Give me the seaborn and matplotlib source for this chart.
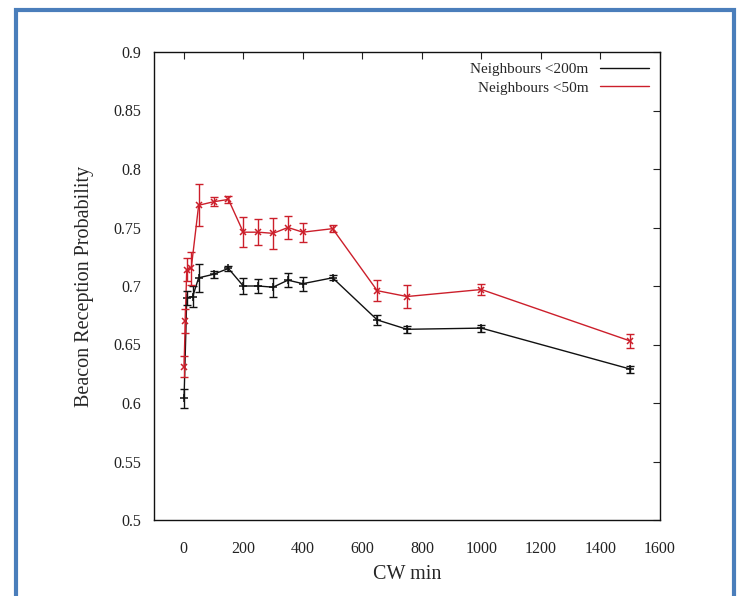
import numpy as np
import pandas as pd
import matplotlib
matplotlib.use('Agg')
from matplotlib import pyplot as plt
from matplotlib.patches import Rectangle
import seaborn as sns

sns.set_style('white')
plt.rcParams['font.family'] = ['Liberation Serif', 'DejaVu Serif']

# Neighbours < 200m (black)
cw_200 = [1, 10, 30, 50, 100, 150, 200, 250, 300, 350, 400, 500, 650, 750, 1000, 1500]
prob_200 = [0.604, 0.690, 0.691, 0.707, 0.710, 0.715, 0.700, 0.700, 0.699, 0.705, 0.702, 0.707,
            0.671, 0.663, 0.664, 0.629]
err_200 = [0.008, 0.006, 0.009, 0.012, 0.003, 0.002, 0.007, 0.006, 0.008, 0.006, 0.006, 0.002,
           0.004, 0.003, 0.003, 0.003]

# Neighbours < 50m (red)
cw_50 = [1, 5, 10, 25, 50, 100, 150, 200, 250, 300, 350, 400, 500, 650, 750, 1000, 1500]
prob_50 = [0.631, 0.670, 0.714, 0.715, 0.769, 0.772, 0.774, 0.746, 0.746, 0.745, 0.750, 0.746,
           0.749, 0.696, 0.691, 0.697, 0.653]
err_50 = [0.009, 0.010, 0.010, 0.014, 0.018, 0.004, 0.003, 0.013, 0.011, 0.013, 0.010, 0.008,
          0.003, 0.009, 0.010, 0.005, 0.006]

black = '#111111'
red = '#cc1f2b'

df200 = pd.DataFrame({'cw': cw_200, 'p': prob_200, 'e': err_200})
df50 = pd.DataFrame({'cw': cw_50, 'p': prob_50, 'e': err_50})

fig = plt.figure(figsize=(7.38, 5.96), dpi=100)
ax = fig.add_axes([154 / 738, 76 / 596, 506 / 738, 468 / 596])

sns.lineplot(data=df200, x='cw', y='p', ax=ax, color=black, lw=1.0, marker='+',
             markersize=6, markeredgewidth=1.1, markeredgecolor=black, label='Neighbours <200m')
sns.lineplot(data=df50, x='cw', y='p', ax=ax, color=red, lw=1.0, marker='x',
             markersize=5, markeredgewidth=1.1, markeredgecolor=red, label='Neighbours <50m')
ax.errorbar(df200['cw'], df200['p'], yerr=df200['e'], fmt='none', ecolor=black,
            elinewidth=1.0, capsize=3, capthick=1.0)
ax.errorbar(df50['cw'], df50['p'], yerr=df50['e'], fmt='none', ecolor=red,
            elinewidth=1.0, capsize=3, capthick=1.0)

ax.set_xlim(-100, 1600)
ax.set_ylim(0.5, 0.9)
ax.set_xticks(np.arange(0, 1601, 200))
ax.set_yticks(np.arange(0.5, 0.901, 0.05))
ax.set_yticklabels(['0.5', '0.55', '0.6', '0.65', '0.7', '0.75', '0.8', '0.85', '0.9'])
ax.tick_params(direction='in', length=5, width=0.8, top=True, right=True,
               labelsize=11.5, pad=9, colors='#222222')
ax.tick_params(axis='x', pad=15)
for s in ax.spines.values():
    s.set_linewidth(1.0)
    s.set_color('#111111')

ax.set_xlabel('CW min', fontsize=14.5, labelpad=6)
ax.set_ylabel('Beacon Reception Probability', fontsize=14.5, labelpad=14)

leg = ax.legend(loc='upper right', frameon=False, markerfirst=False, fontsize=11,
                handlelength=3.2, borderaxespad=0.3, labelspacing=0.3)
for h in leg.legend_handles:
    h.set_marker('')

# blue frame of the screenshot
fig.patches.append(Rectangle((16 / 738, -0.05), 718 / 738, 1.05 - 10 / 596,
                             transform=fig.transFigure, fill=False,
                             edgecolor='#4a7ebb', linewidth=3, zorder=10))

fig.savefig('out.png', dpi=100)
